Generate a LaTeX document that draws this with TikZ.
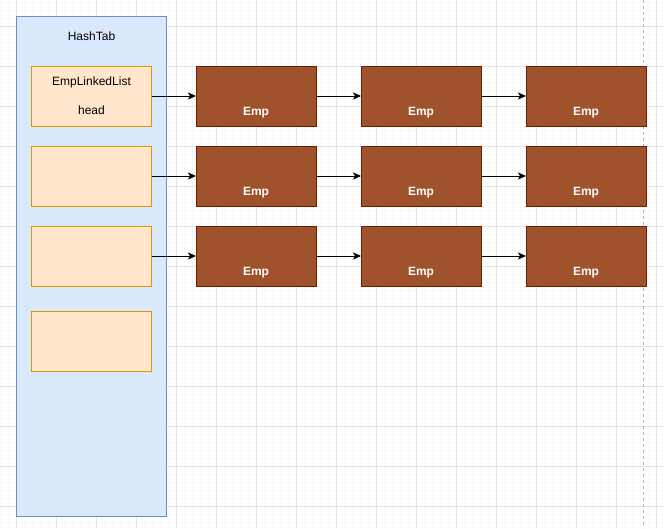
\documentclass[tikz,border=0pt]{standalone}
\usepackage{fontspec}
\setmainfont{Liberation Sans}
\usetikzlibrary{arrows.meta}

\definecolor{tabfill}{HTML}{DAE8FC}
\definecolor{tabline}{HTML}{6C8EBF}
\definecolor{listfill}{HTML}{FFE6CC}
\definecolor{listline}{HTML}{D79B00}
\definecolor{empfill}{HTML}{A0522D}
\definecolor{empline}{HTML}{6D1F00}

\tikzset{
  minorgrid/.style={draw=black!3, line width=1pt},
  majorgrid/.style={draw=black!11, line width=1pt},
  tabbox/.style={draw=tabline, fill=tabfill, line width=1pt, minimum width=150pt, minimum height=500pt, outer sep=0pt},
  listbox/.style={draw=listline, fill=listfill, line width=1pt, minimum width=120pt, minimum height=60pt, outer sep=0pt},
  empbox/.style={draw=empline, fill=empfill, line width=1pt, minimum width=120pt, minimum height=60pt, outer sep=0pt},
  txt/.style={font=\fontsize{12}{14}\selectfont, inner sep=0pt},
  emptext/.style={txt, text=white, font=\fontsize{12}{14}\selectfont\bfseries},
  link/.style={line width=1pt, -{Stealth[length=8pt,width=7pt,inset=2pt]}}
}

\begin{document}
\begin{tikzpicture}[x=1pt, y=-1pt]
        \useasboundingbox (0,0) rectangle (664,528);
        \fill[white] (0,0) rectangle (664,528);
        
        % background grid
        \foreach \x in {0,8,...,664} \draw[minorgrid] (\x,0) -- (\x,528);
        \foreach \y in {2,10,...,528} \draw[minorgrid] (0,\y) -- (664,\y);
        \foreach \x in {16,56,...,656} \draw[majorgrid] (\x,0) -- (\x,528);
        \foreach \y in {26,66,...,506} \draw[majorgrid] (0,\y) -- (664,\y);
        \draw[black!30, line width=1pt, dash pattern=on 3pt off 3pt] (643,0) -- (643,528);
        
        % hash table
        \node[tabbox] (tab) at (91.5,266) {};
        \node[txt] (tabtitle) at (91.5,36) {HashTab};
        
        \node[listbox] (list1) at (91.5,96.5) {};
        \node[listbox] (list2) at (91.5,176) {};
        \node[listbox] (list3) at (91.5,256) {};
        \node[listbox] (list4) at (91.5,341) {};
        \node[txt] (listname) at (91.5,82) {EmpLinkedList};
        \node[txt] (listhead) at (91.5,110.5) {head};
        
        % employees
        \foreach \r/\y in {1/96,2/176,3/256} {
            \foreach \c/\x in {1/256,2/421,3/586} {
                \node[empbox] (emp\r\c) at (\x,\y) {};
                \node[emptext] (emptext\r\c) at ([yshift=-16.5pt]emp\r\c.center) {Emp};
            }
            \draw[link] (list\r.east |- emp\r1.west) -- (emp\r1.west);
            \draw[link] (emp\r1.east) -- (emp\r2.west);
            \draw[link] (emp\r2.east) -- (emp\r3.west);
        }
    \end{tikzpicture}
\end{document}
